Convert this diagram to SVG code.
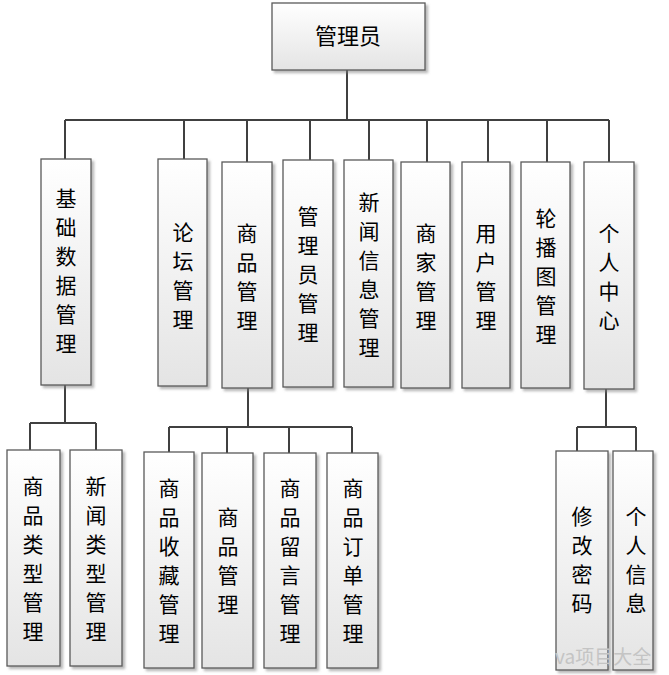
<svg xmlns="http://www.w3.org/2000/svg" width="669" height="675" viewBox="0 0 669 675">
<defs>
<linearGradient id="g" x1="0" y1="0" x2="0" y2="1">
<stop offset="0" stop-color="#ffffff"/>
<stop offset="1" stop-color="#e4e4e4"/>
</linearGradient>
<filter id="sh" x="-20%" y="-5%" width="150%" height="115%">
<feDropShadow dx="2.5" dy="2.5" stdDeviation="1.2" flood-color="#808080" flood-opacity="0.55"/>
</filter>
</defs>
<style>
.box{fill:url(#g);stroke:#5a5a5a;stroke-width:1.3;filter:url(#sh)}
.t{font-family:"Noto Sans CJK SC","Noto Sans CJK JP",sans-serif;font-size:21px;fill:#000;text-anchor:middle}
.rt{font-size:22px}
.ln{fill:none;stroke:#404040;stroke-width:2}
.wm{font-family:"Noto Sans CJK SC","Liberation Sans",sans-serif;font-size:19px;fill:#c4c4c4}
</style>
<rect width="669" height="675" fill="#ffffff"/>
<g id="connectors">
<path class="ln" d="M347 70V120M65 120H609M65 120V159M184 120V159M247 120V162M310 120V160M369 120V160M427 120V162M488 120V162M547 120V162M609 120V162"/>
<path class="ln" d="M65 385V423M30 423H96M30 423V450M96 423V450"/>
<path class="ln" d="M248 388V427M169 427H352M169 427V452M227 427V453M289 427V453M352 427V453"/>
<path class="ln" d="M606 389V427M577 427H636M577 427V451M636 427V451"/>
</g>
<g id="root"><rect class="box" x="272" y="3" width="153" height="67"/><text class="t rt" x="348" y="44">管理员</text></g>
<g id="n1"><rect class="box" x="41" y="159" width="50" height="226"/><text class="t" x="66"><tspan x="66" y="206">基</tspan><tspan x="66" y="235">础</tspan><tspan x="66" y="264">数</tspan><tspan x="66" y="293">据</tspan><tspan x="66" y="322">管</tspan><tspan x="66" y="351">理</tspan></text></g>
<g id="n2"><rect class="box" x="158" y="159" width="49" height="227"/><text class="t" x="183"><tspan x="183" y="240">论</tspan><tspan x="183" y="269">坛</tspan><tspan x="183" y="298">管</tspan><tspan x="183" y="327">理</tspan></text></g>
<g id="n3"><rect class="box" x="222" y="162" width="50" height="226"/><text class="t" x="247"><tspan x="247" y="241">商</tspan><tspan x="247" y="270">品</tspan><tspan x="247" y="299">管</tspan><tspan x="247" y="328">理</tspan></text></g>
<g id="n4"><rect class="box" x="283" y="160" width="50" height="227"/><text class="t" x="308"><tspan x="308" y="224">管</tspan><tspan x="308" y="253">理</tspan><tspan x="308" y="282">员</tspan><tspan x="308" y="311">管</tspan><tspan x="308" y="340">理</tspan></text></g>
<g id="n5"><rect class="box" x="344" y="160" width="49" height="227"/><text class="t" x="369"><tspan x="369" y="210">新</tspan><tspan x="369" y="239">闻</tspan><tspan x="369" y="268">信</tspan><tspan x="369" y="297">息</tspan><tspan x="369" y="326">管</tspan><tspan x="369" y="355">理</tspan></text></g>
<g id="n6"><rect class="box" x="401" y="162" width="49" height="226"/><text class="t" x="426"><tspan x="426" y="241">商</tspan><tspan x="426" y="270">家</tspan><tspan x="426" y="299">管</tspan><tspan x="426" y="328">理</tspan></text></g>
<g id="n7"><rect class="box" x="462" y="162" width="48" height="226"/><text class="t" x="486"><tspan x="486" y="241">用</tspan><tspan x="486" y="270">户</tspan><tspan x="486" y="299">管</tspan><tspan x="486" y="328">理</tspan></text></g>
<g id="n8"><rect class="box" x="521" y="162" width="49" height="226"/><text class="t" x="546"><tspan x="546" y="226">轮</tspan><tspan x="546" y="255">播</tspan><tspan x="546" y="284">图</tspan><tspan x="546" y="313">管</tspan><tspan x="546" y="342">理</tspan></text></g>
<g id="n9"><rect class="box" x="584" y="162" width="50" height="227"/><text class="t" x="609"><tspan x="609" y="241">个</tspan><tspan x="609" y="270">人</tspan><tspan x="609" y="299">中</tspan><tspan x="609" y="328">心</tspan></text></g>
<g id="n10"><rect class="box" x="7" y="450" width="53" height="216"/><text class="t" x="33"><tspan x="33" y="494">商</tspan><tspan x="33" y="523">品</tspan><tspan x="33" y="552">类</tspan><tspan x="33" y="581">型</tspan><tspan x="33" y="610">管</tspan><tspan x="33" y="639">理</tspan></text></g>
<g id="n11"><rect class="box" x="70" y="450" width="52" height="216"/><text class="t" x="96"><tspan x="96" y="494">新</tspan><tspan x="96" y="523">闻</tspan><tspan x="96" y="552">类</tspan><tspan x="96" y="581">型</tspan><tspan x="96" y="610">管</tspan><tspan x="96" y="639">理</tspan></text></g>
<g id="n12"><rect class="box" x="144" y="452" width="50" height="216"/><text class="t" x="169"><tspan x="169" y="496">商</tspan><tspan x="169" y="525">品</tspan><tspan x="169" y="554">收</tspan><tspan x="169" y="583">藏</tspan><tspan x="169" y="612">管</tspan><tspan x="169" y="641">理</tspan></text></g>
<g id="n13"><rect class="box" x="202" y="453" width="51" height="215"/><text class="t" x="228"><tspan x="228" y="525">商</tspan><tspan x="228" y="554">品</tspan><tspan x="228" y="583">管</tspan><tspan x="228" y="612">理</tspan></text></g>
<g id="n14"><rect class="box" x="264" y="453" width="52" height="215"/><text class="t" x="290"><tspan x="290" y="496">商</tspan><tspan x="290" y="525">品</tspan><tspan x="290" y="554">留</tspan><tspan x="290" y="583">言</tspan><tspan x="290" y="612">管</tspan><tspan x="290" y="641">理</tspan></text></g>
<g id="n15"><rect class="box" x="327" y="453" width="51" height="215"/><text class="t" x="353"><tspan x="353" y="496">商</tspan><tspan x="353" y="525">品</tspan><tspan x="353" y="554">订</tspan><tspan x="353" y="583">单</tspan><tspan x="353" y="612">管</tspan><tspan x="353" y="641">理</tspan></text></g>
<g id="n16"><rect class="box" x="556" y="451" width="52" height="219"/><text class="t" x="582"><tspan x="582" y="524">修</tspan><tspan x="582" y="553">改</tspan><tspan x="582" y="582">密</tspan><tspan x="582" y="611">码</tspan></text></g>
<g id="n17"><rect class="box" x="613" y="451" width="40" height="219"/><text class="t" x="636"><tspan x="636" y="524">个</tspan><tspan x="636" y="553">人</tspan><tspan x="636" y="582">信</tspan><tspan x="636" y="611">息</tspan></text></g>
<text class="wm" x="555" y="664">va项目大全</text>
</svg>
